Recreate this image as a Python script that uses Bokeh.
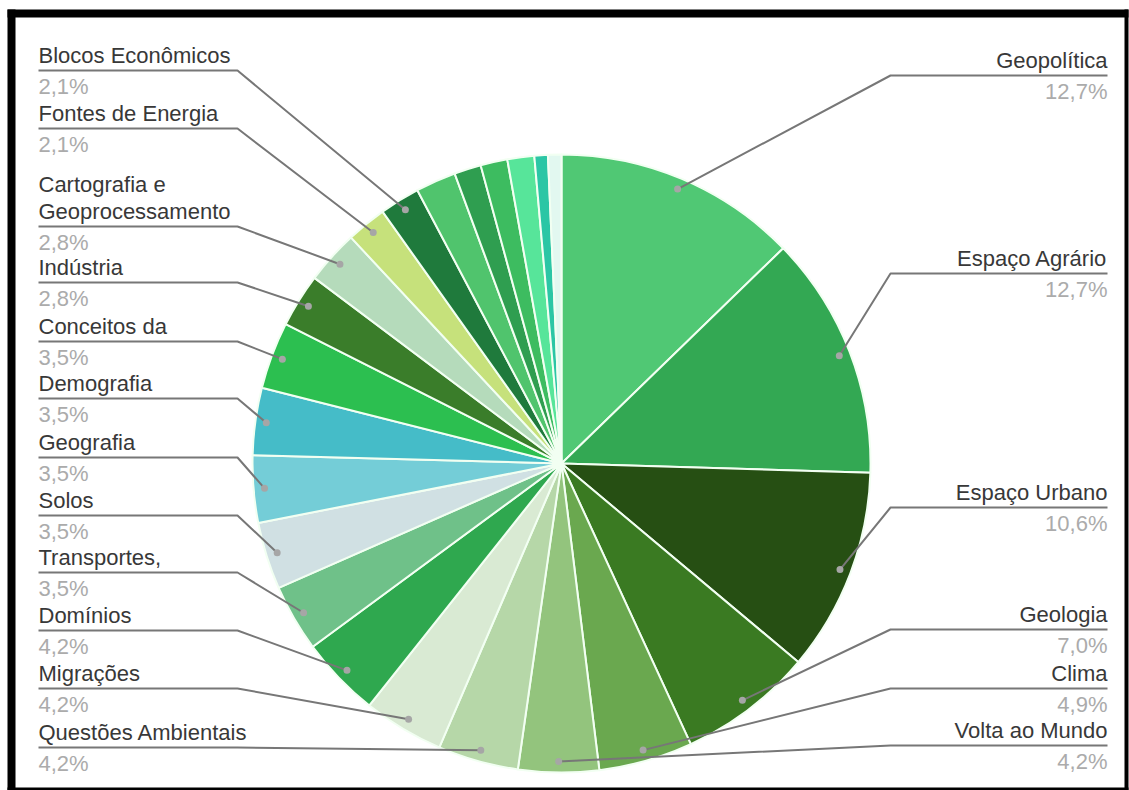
import numpy as np
from bokeh.plotting import figure
from bokeh.models import Range1d
from bokeh.core.properties import value
from bokeh.embed import file_html
from bokeh.resources import INLINE

# ---------------- data ----------------
categories = [
    "Geopolítica", "Espaço Agrário", "Espaço Urbano", "Geologia", "Clima",
    "Volta ao Mundo", "Questões Ambientais", "Migrações", "Domínios",
    "Transportes,", "Solos", "Geografia", "Demografia", "Conceitos da",
    "Indústria", "Cartografia e\nGeoprocessamento", "Fontes de Energia",
    "Blocos Econômicos", None, None, None, None, None, None,
]
percentages = [
    12.7, 12.7, 10.6, 7.0, 4.9,
    4.2, 4.2, 4.2, 4.2,
    3.5, 3.5, 3.5, 3.5, 3.5,
    2.8, 2.8, 2.1,
    2.1, 2.1, 1.4, 1.4, 1.4, 0.7, 0.7,
]
colors = [
    "#50c874", "#33a853", "#264f13", "#3a7a22", "#6aa84f",
    "#93c47d", "#b6d7a8", "#d9ead3", "#2fa84f",
    "#6fc189", "#d0e0e3", "#74cdd7", "#45bcc8", "#2cbf50",
    "#3a7d2a", "#b5dbbb", "#c6e17b",
    "#1f7a3c", "#50c46d", "#2f9e50", "#3dbc60", "#57e59a", "#2bc6a5", "#e2f8f0",
]

# ---------------- layout (screen pixels) ----------------
W, H = 1129, 790
OX, OY = 0, 0


def X(sx):
    return np.asarray(sx, dtype=float) - OX


def Y(sy):
    return (OY + H) - np.asarray(sy, dtype=float)


CX, CY, R = 561, 463, 309
DOT_R = 298
label_side = ["R"] * 6 + ["L"] * 12
label_y = [60, 258, 492, 614, 673, 730,
           732, 673, 615, 557, 500, 442, 383, 326, 267, 211, 113, 55]
LINE_H = 27
UNDER_DY = 15
PCT_DY = 31
LEFT_X0, LEFT_ELBOW = 38, 237
RIGHT_X1, RIGHT_ELBOW = 1107, 890

p = figure(width=W, height=H, x_range=Range1d(0, W), y_range=Range1d(0, H),
           output_backend="svg", toolbar_location=None, min_border=0,
           outline_line_color=None)
p.axis.visible = False
p.grid.visible = False
p.background_fill_color = "white"
p.border_fill_color = "white"

# ---------------- wedges ----------------
vals = np.array(percentages, dtype=float)
cum = np.cumsum(vals) / vals.sum() * 2 * np.pi
start_cw = np.concatenate([[0.0], cum[:-1]])
end_cw = cum
p.wedge(x=float(X(CX)), y=float(Y(CY)), radius=R,
        start_angle=list(np.pi / 2 - end_cw), end_angle=list(np.pi / 2 - start_cw),
        fill_color=colors, line_color="#f2fff2", line_width=2)

# ---------------- leader lines, dots, labels ----------------
xs, ys, dot_x, dot_y = [], [], [], []
name_x, name_y, name_t, name_align = [], [], [], []
pct_x, pct_y, pct_t, pct_align = [], [], [], []
for i, cat in enumerate(categories):
    if cat is None:
        continue
    mid = (start_cw[i] + end_cw[i]) / 2
    dx = CX + DOT_R * np.sin(mid)
    dy = CY - DOT_R * np.cos(mid)
    yl = label_y[i]
    yu = yl + UNDER_DY
    lines = cat.split("\n")
    if label_side[i] == "L":
        xs.append(list(X([LEFT_X0, LEFT_ELBOW, dx])))
        tx, al = LEFT_X0, "left"
    else:
        xs.append(list(X([RIGHT_X1, RIGHT_ELBOW, dx])))
        tx, al = RIGHT_X1, "right"
    ys.append(list(Y([yu, yu, dy])))
    dot_x.append(float(X(dx)))
    dot_y.append(float(Y(dy)))
    n = len(lines)
    for k, ln in enumerate(lines):
        name_x.append(float(X(tx)))
        name_y.append(float(Y(yl - (n - 1 - k) * LINE_H)))
        name_t.append(ln)
        name_align.append(al)
    pct_x.append(float(X(tx)))
    pct_y.append(float(Y(yl + PCT_DY)))
    pct_t.append(f"{percentages[i]:.1f}".replace(".", ",") + "%")
    pct_align.append(al)

p.multi_line(xs=xs, ys=ys, line_color="#777777", line_width=2)
p.scatter(x=dot_x, y=dot_y, size=7, fill_color="#a6a6a6", line_color=None)

p.text(x=name_x, y=name_y, text=name_t, text_align=name_align,
       text_baseline="middle", text_font=value("Liberation Sans"),
       text_font_size="22px", text_color="#383838")
p.text(x=pct_x, y=pct_y, text=pct_t, text_align=pct_align,
       text_baseline="middle", text_font=value("Liberation Sans"),
       text_font_size="22px", text_color="#ababab")

# ---------------- black frame (screen: left 7-15, top 9-17, right 1124-1128, bottom 787-790) ----------------
fl = list(X([7, 7, 1124, 7]))
fr = list(X([15, 1128, 1128, 1128]))
ft = list(Y([9, 9, 9, 787]))
fb = list(Y([790, 17, 790, 790]))
p.quad(left=fl, right=fr, top=ft, bottom=fb, fill_color="black", line_color=None)

open("out.html", "w").write(file_html(p, INLINE))
